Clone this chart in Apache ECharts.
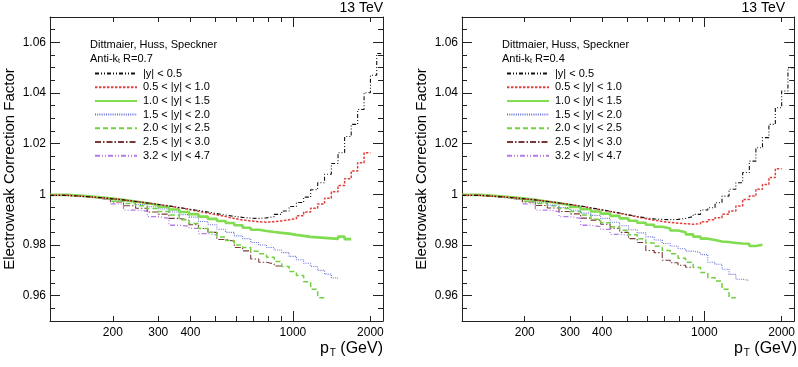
<!DOCTYPE html>
<html>
<head>
<meta charset="utf-8">
<script src="https://cdn.jsdelivr.net/npm/echarts@6/dist/echarts.min.js"></script>
<style>
  html, body { margin: 0; padding: 0; background: #fff; }
  #chart { width: 798px; height: 367px; }
</style>
</head>
<body>
<div id="chart"></div>
<script>
// pT bin edges (GeV), shared by both panels
const ptEdges = [114, 133, 153, 174, 196, 220, 245, 272, 300, 330, 362, 395, 430, 468, 507, 548, 592, 638,
  686, 737, 790, 846, 905, 967, 1032, 1101, 1172, 1248, 1327, 1410, 1497, 1588, 1684, 1784, 1890, 2000, 2116, 2238]

const rapidityBins = ['|y| < 0.5', '0.5 < |y| < 1.0', '1.0 < |y| < 1.5', '1.5 < |y| < 2.0',
  '2.0 < |y| < 2.5', '2.5 < |y| < 3.0', '3.2 < |y| < 4.7']

// Anti-kt R=0.7, one value per pT bin
const r07_y00 = [0.9996, 0.9992, 0.9988, 0.9983, 0.9978, 0.9972, 0.9966, 0.9960, 0.9954, 0.9948, 0.9942, 0.9936, 0.9930,
  0.9924, 0.9918, 0.9913, 0.9909, 0.9906, 0.9905, 0.9907, 0.9912, 0.9921, 0.9934, 0.9952, 0.9968, 0.9989, 1.0018,
  1.0046, 1.0079, 1.0122, 1.0164, 1.0228, 1.0276, 1.0335, 1.0401, 1.0470, 1.0556]
const r07_y05 = [0.9996, 0.9992, 0.9988, 0.9983, 0.9978, 0.9972, 0.9966, 0.9960, 0.9954, 0.9947, 0.9940, 0.9933, 0.9926,
  0.9919, 0.9912, 0.9905, 0.9899, 0.9895, 0.9892, 0.9890, 0.9892, 0.9895, 0.9900, 0.9904, 0.9915, 0.9930, 0.9945,
  0.9962, 0.9985, 1.0010, 1.0035, 1.0062, 1.0092, 1.0125, 1.0164]
const r07_y10 = [0.9998, 0.9994, 0.9989, 0.9984, 0.9978, 0.9972, 0.9965, 0.9958, 0.9950, 0.9940, 0.9930, 0.9922, 0.9912,
  0.9903, 0.9895, 0.9887, 0.9878, 0.9868, 0.9860, 0.9855, 0.9851, 0.9848, 0.9845, 0.9840, 0.9836, 0.9832, 0.9830,
  0.9828, 0.9826, 0.9824, 0.9833, 0.9823]
const r07_y15 = [0.9997, 0.9993, 0.9988, 0.9982, 0.9975, 0.9968, 0.9960, 0.9951, 0.9942, 0.9930, 0.9920, 0.9910, 0.9893,
  0.9880, 0.9862, 0.9850, 0.9836, 0.9825, 0.9810, 0.9800, 0.9790, 0.9780, 0.9770, 0.9755, 0.9742, 0.9728, 0.9715,
  0.9700, 0.9685, 0.9670]
const r07_y20 = [0.9997, 0.9993, 0.9988, 0.9981, 0.9973, 0.9964, 0.9955, 0.9944, 0.9932, 0.9918, 0.9900, 0.9885, 0.9865,
  0.9850, 0.9832, 0.9818, 0.9800, 0.9790, 0.9775, 0.9765, 0.9752, 0.9735, 0.9715, 0.9695, 0.9680, 0.9655, 0.9625, 0.9592]
const r07_y25 = [0.9997, 0.9993, 0.9987, 0.9980, 0.9970, 0.9955, 0.9945, 0.9930, 0.9922, 0.9905, 0.9898, 0.9880, 0.9865,
  0.9850, 0.9822, 0.9815, 0.9790, 0.9777, 0.9745, 0.9732, 0.9725, 0.9717]
const r07_y32 = [0.9997, 0.9992, 0.9985, 0.9978, 0.9962, 0.9938, 0.9934, 0.9912, 0.9905, 0.9878, 0.9874, 0.9866, 0.9845, 0.9840]

// Anti-kt R=0.4
const r04_y00 = [0.9996, 0.9992, 0.9988, 0.9983, 0.9978, 0.9972, 0.9966, 0.9960, 0.9954, 0.9947, 0.9940, 0.9933, 0.9926,
  0.9919, 0.9913, 0.9907, 0.9903, 0.9901, 0.9900, 0.9901, 0.9905, 0.9912, 0.9921, 0.9938, 0.9947, 0.9967, 0.9993,
  1.0020, 1.0046, 1.0086, 1.0131, 1.0184, 1.0224, 1.0276, 1.0342, 1.0408, 1.0500]
const r04_y05 = [0.9996, 0.9992, 0.9988, 0.9983, 0.9978, 0.9972, 0.9966, 0.9960, 0.9953, 0.9946, 0.9939, 0.9932, 0.9925,
  0.9918, 0.9911, 0.9904, 0.9898, 0.9893, 0.9889, 0.9886, 0.9884, 0.9882, 0.9884, 0.9892, 0.9900, 0.9908, 0.9921,
  0.9934, 0.9954, 0.9980, 0.9993, 1.0020, 1.0039, 1.0066, 1.0101]
const r04_y10 = [0.9998, 0.9994, 0.9989, 0.9984, 0.9978, 0.9972, 0.9965, 0.9958, 0.9950, 0.9941, 0.9932, 0.9924, 0.9915,
  0.9905, 0.9896, 0.9888, 0.9880, 0.9872, 0.9865, 0.9857, 0.9850, 0.9842, 0.9833, 0.9825, 0.9820, 0.9814, 0.9812,
  0.9808, 0.9806, 0.9805, 0.9796, 0.9801]
const r04_y15 = [0.9997, 0.9993, 0.9988, 0.9982, 0.9975, 0.9967, 0.9958, 0.9948, 0.9937, 0.9926, 0.9917, 0.9905, 0.9890,
  0.9876, 0.9860, 0.9848, 0.9832, 0.9820, 0.9806, 0.9796, 0.9785, 0.9776, 0.9770, 0.9762, 0.9732, 0.9724, 0.9704,
  0.9684, 0.9665, 0.9660]
const r04_y20 = [0.9997, 0.9993, 0.9988, 0.9981, 0.9973, 0.9964, 0.9955, 0.9944, 0.9932, 0.9918, 0.9902, 0.9888, 0.9872,
  0.9858, 0.9840, 0.9825, 0.9808, 0.9795, 0.9778, 0.9765, 0.9748, 0.9732, 0.9711, 0.9691, 0.9671, 0.9658, 0.9625, 0.9592]
const r04_y25 = [0.9997, 0.9993, 0.9987, 0.9980, 0.9970, 0.9956, 0.9946, 0.9932, 0.9923, 0.9906, 0.9898, 0.9882, 0.9866,
  0.9850, 0.9825, 0.9810, 0.9778, 0.9770, 0.9740, 0.9730, 0.9720, 0.9712]
const r04_y32 = [0.9997, 0.9992, 0.9985, 0.9978, 0.9962, 0.9938, 0.9932, 0.9912, 0.9905, 0.9878, 0.9872, 0.9862, 0.9842, 0.9838]

// ticks
const xTickLabels = [200, 300, 400, 1000, 2000]
const xMinorTicks = [200, 300, 400, 500, 600, 700, 800, 900, 2000]
const xMajorTicks = [1000]
const yTickLabels = [0.96, 0.98, 1, 1.02, 1.04, 1.06]
const yMinorTicks = [0.955, 0.965, 0.97, 0.975, 0.985, 0.99, 0.995, 1.005, 1.01, 1.015, 1.025, 1.03, 1.035,
  1.045, 1.05, 1.055, 1.065]

const panels = [
  { radius: 'R=0.7', data: [r07_y00, r07_y05, r07_y10, r07_y15, r07_y20, r07_y25, r07_y32], left: 50, width: 333 },
  { radius: 'R=0.4', data: [r04_y00, r04_y05, r04_y10, r04_y15, r04_y20, r04_y25, r04_y32], left: 462, width: 334 }
]

const lineStyles = [
  { color: '#111111', width: 1.1, type: [4, 2, 1, 2, 1, 2] },
  { color: '#e0403c', width: 1.5, type: [2.5, 1.5] },
  { color: '#80dc50', width: 2.6, type: 'solid' },
  { color: '#6670d8', width: 1.1, type: [1, 1.2] },
  { color: '#70d040', width: 1.5, type: [5, 3] },
  { color: '#7a3838', width: 1.1, type: [6, 2, 1.5, 2] },
  { color: '#b47ae6', width: 1.3, type: [5, 2, 1, 2, 1, 2] }
]

const FONT = '"Liberation Sans", Arial, Helvetica, sans-serif'
const FRAME = '#222'

// histogram steps: one point per lower edge, plus the upper edge of the last bin
const stepData = values => {
  const pts = values.map((v, i) => [ptEdges[i], v])
  pts.push([ptEdges[values.length], values[values.length - 1]])
  return pts
}

const chart = echarts.init(document.getElementById('chart'), null, { renderer: 'canvas' })

const grid = []
const xAxis = []
const yAxis = []
const series = []
const legend = []
const graphic = []

panels.forEach((p, gi) => {
  grid.push({ left: p.left, top: 17, width: p.width, height: 304 })

  const xBase = { type: 'log', logBase: 10, gridIndex: gi, min: ptEdges[0], max: ptEdges[ptEdges.length - 1],
    splitLine: { show: false } }
  const xi = xAxis.length
  xAxis.push(
    { ...xBase, position: 'bottom',
      axisLine: { lineStyle: { color: FRAME, width: 1 } },
      axisTick: { inside: true, length: 5, customValues: xMinorTicks, lineStyle: { color: FRAME } },
      axisLabel: { customValues: xTickLabels, formatter: v => String(v), fontSize: 12, color: '#000',
        fontFamily: FONT, margin: 6 } },
    { ...xBase, position: 'bottom', axisLine: { show: false },
      axisTick: { inside: true, length: 10, customValues: xMajorTicks, lineStyle: { color: FRAME } },
      axisLabel: { show: false } },
    { ...xBase, position: 'top',
      axisLine: { lineStyle: { color: FRAME, width: 1 } },
      axisTick: { inside: true, length: 5, customValues: xMinorTicks, lineStyle: { color: FRAME } },
      axisLabel: { show: false } },
    { ...xBase, position: 'top', axisLine: { show: false },
      axisTick: { inside: true, length: 10, customValues: xMajorTicks, lineStyle: { color: FRAME } },
      axisLabel: { show: false } }
  )

  const yBase = { type: 'value', gridIndex: gi, min: 0.95, max: 1.07, splitLine: { show: false } }
  const yi = yAxis.length
  yAxis.push(
    { ...yBase, position: 'left',
      name: 'Electroweak Correction Factor', nameLocation: 'middle', nameGap: 33,
      nameTextStyle: { fontSize: 15, color: '#000', fontFamily: FONT },
      axisLine: { lineStyle: { color: FRAME, width: 1 } },
      axisTick: { inside: true, length: 10, customValues: yTickLabels, lineStyle: { color: FRAME } },
      axisLabel: { customValues: yTickLabels, fontSize: 12, color: '#000', fontFamily: FONT, margin: 4 } },
    { ...yBase, position: 'left', axisLine: { show: false },
      axisTick: { inside: true, length: 5, customValues: yMinorTicks, lineStyle: { color: FRAME } },
      axisLabel: { show: false } },
    { ...yBase, position: 'right',
      axisLine: { lineStyle: { color: FRAME, width: 1 } },
      axisTick: { inside: true, length: 10, customValues: yTickLabels, lineStyle: { color: FRAME } },
      axisLabel: { show: false } },
    { ...yBase, position: 'right', axisLine: { show: false },
      axisTick: { inside: true, length: 5, customValues: yMinorTicks, lineStyle: { color: FRAME } },
      axisLabel: { show: false } }
  )

  p.data.forEach((vals, k) => {
    series.push({
      name: rapidityBins[k],
      type: 'line',
      step: 'end',
      xAxisIndex: xi,
      yAxisIndex: yi,
      data: stepData(vals),
      symbol: 'none',
      lineStyle: lineStyles[k],
      itemStyle: { color: lineStyles[k].color },
      z: 10 - k
    })
  })

  legend.push({
    orient: 'vertical',
    left: p.left + 39,
    top: 63,
    itemWidth: 42,
    itemHeight: 10,
    itemGap: 2.7,
    data: rapidityBins,
    selectedMode: false,
    itemStyle: { opacity: 0 },
    textStyle: { fontSize: 11, color: '#000', fontFamily: FONT, lineHeight: 10, padding: [0, 0, 0, 1] }
  })

  const right = 798 - (p.left + p.width)
  graphic.push(
    { type: 'text', left: p.left + 40, top: 39,
      style: { text: 'Dittmaier, Huss, Speckner', fontSize: 11, fill: '#000', fontFamily: FONT } },
    { type: 'text', left: p.left + 40, top: 53,
      style: { text: '{a|Anti-k}{s|t}{a| ' + p.radius + '}', fill: '#000', fontFamily: FONT,
        rich: { a: { fontSize: 11, fontFamily: FONT }, s: { fontSize: 7, padding: [6, 0, 0, 0], fontFamily: FONT } } } },
    { type: 'text', right: gi === 0 ? right : 13, top: 1,
      style: { text: '13 TeV', fontSize: 14, fill: '#000', fontFamily: FONT } },
    { type: 'text', right: gi === 0 ? right : 1, top: 341,
      style: { text: '{p|p}{s|T}{p| (GeV)}', fill: '#000', fontFamily: FONT,
        rich: { p: { fontSize: 16, fontFamily: FONT }, s: { fontSize: 10, padding: [9, 0, 0, 1], fontFamily: FONT } } } }
  )
})

chart.setOption({
  animation: false,
  backgroundColor: '#fff',
  grid,
  xAxis,
  yAxis,
  legend,
  series,
  graphic
})

window.addEventListener('resize', () => chart.resize())
</script>
</body>
</html>
